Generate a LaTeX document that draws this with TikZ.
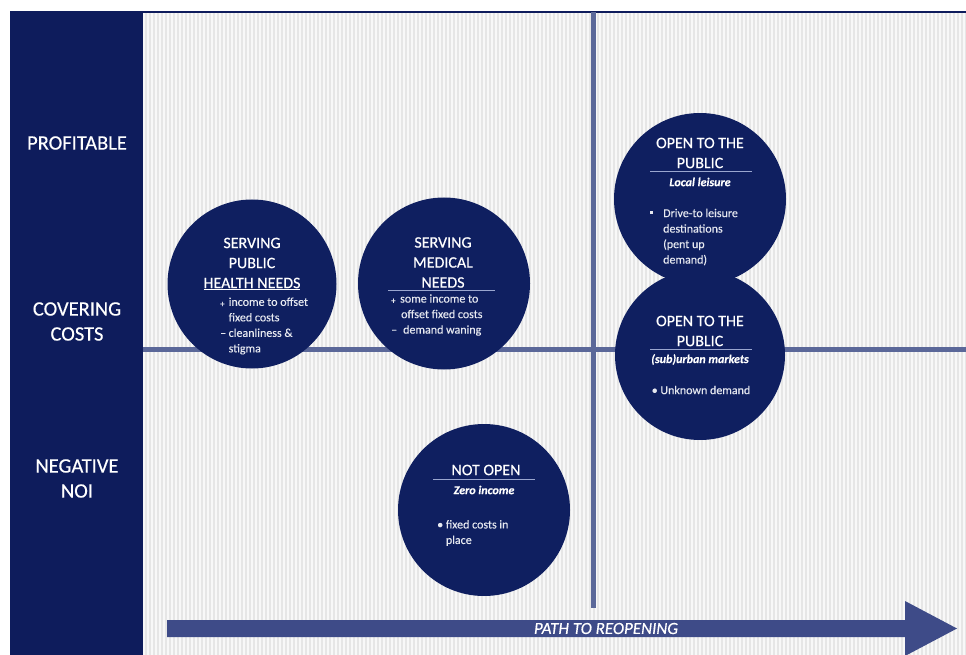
\documentclass[tikz,border=0pt]{standalone}
\usepackage{fontspec}
\setmainfont{Carlito}[FakeBold=0.35,BoldFeatures={FakeBold=0}]
\definecolor{panelnavy}{HTML}{0E1C5C}
\definecolor{discnavy}{HTML}{0F1F60}
\definecolor{axisblue}{HTML}{5B6899}
\definecolor{arrowblue}{HTML}{3E4B88}
\definecolor{rulelight}{HTML}{9AA6CF}
\definecolor{bodytxt}{HTML}{E6E8F0}
\definecolor{stripegray}{HTML}{E6E6E6}
\definecolor{plotbg}{HTML}{F8F8F8}

\begin{document}
\begin{tikzpicture}[x=1pt,y=-1pt,
  disc/.style={circle, fill=discnavy, minimum size=#1, inner sep=0pt},
  title/.style={text=white, font=\fontsize{16}{20}\selectfont, align=center, inner sep=0pt},
  bodytext/.style={text=bodytxt, font=\fontsize{12}{15.5}\selectfont, align=left, inner sep=0pt},
  subtitle/.style={text=white, font=\fontsize{12}{15}\selectfont\bfseries\itshape, inner sep=0pt},
  side/.style={text=white, font=\fontsize{20.5}{25}\selectfont, align=center, inner sep=0pt},
  divider/.style={rulelight, line width=1pt},
]
\useasboundingbox (0,0) rectangle (966,655);
\fill[white] (0,0) rectangle (966,655);

% striped plot area
\fill[plotbg] (143,12) rectangle (966,655);
\foreach \x in {146,150,...,966}
  \draw[stripegray, line width=1.2pt] (\x,12) -- (\x,655);

% left label panel and top border
\fill[panelnavy] (10,11) rectangle (143,655);
\draw[panelnavy, line width=2pt] (10,12) -- (966,12);

% quadrant axes
\draw[axisblue, line width=5pt] (143,349) -- (966,349);
\draw[axisblue, line width=5pt] (593,12) -- (593,608);

% row labels
\node[side] (lprofit) at (77,143) {PROFITABLE};
\node[side] (lcover) at (77,321.5) {COVERING\\COSTS};
\node[side] (lneg) at (77,478.5) {NEGATIVE\\NOI};

% path arrow
\fill[arrowblue] (167,620) -- (905,620) -- (905,601) -- (957,628.5)
  -- (905,656) -- (905,637) -- (167,637) -- cycle;
\node[text=white, font=\fontsize{17}{17}\selectfont\itshape, inner sep=0pt]
  (lpath) at (606,628.5) {PATH TO REOPENING};

% discs
\node[disc=169] (c1) at (252,284) {};
\node[disc=172] (c2) at (444,283.5) {};
\node[disc=172] (c3) at (700,199) {};
\node[disc=170] (c4) at (700,355) {};
\node[disc=172] (c5) at (484,510) {};

% serving public health needs
\node[title] (t1) at (252,264) {SERVING\\PUBLIC\\\underline{HEALTH NEEDS}};
\node[bodytext, anchor=west] (b1) at (220,326) {%
  \begin{tabular}{@{}l@{\hspace{2.5pt}}l@{}}
  {\raisebox{-1pt}{\fontsize{9}{9}\selectfont +}} & income to offset\\
   & fixed costs\\
  -- & cleanliness \&\\
   & stigma
  \end{tabular}};

% serving medical needs
\node[title] (t2) at (443,262.5) {SERVING\\MEDICAL\\NEEDS};
\draw[divider] (388,290) -- (495,290);
\node[bodytext, anchor=west] (b2) at (391,315) {%
  \begin{tabular}{@{}l@{\hspace{3pt}}l@{}}
  {\raisebox{-1pt}{\fontsize{9}{9}\selectfont +}} & some income to\\
   & \hspace{1pt}offset fixed costs\\
  -- & \hspace{3pt}demand waning
  \end{tabular}};

% open to the public, local leisure
\node[title] (t3) at (700,153) {OPEN TO THE\\PUBLIC};
\draw[divider] (650,172) -- (752,172);
\node[subtitle] (s3) at (700,182) {Local leisure};
\fill[bodytxt] (649.5,211.5) rectangle (652.5,214.5);
\node[bodytext, anchor=west] (b3) at (663,237) {Drive-to leisure\\destinations\\(pent up\\demand)};

% open to the public, (sub)urban markets
\node[title] (t4) at (700,331) {OPEN TO THE\\PUBLIC};
\draw[divider] (650,349) -- (752,349);
\node[subtitle] (s4) at (700,359.5) {(sub)urban markets};
\node[bodytext] (b4) at (701,390) {\textbullet\ Unknown demand};

% not open
\node[title] (t5) at (486,470) {NOT OPEN};
\draw[divider] (433,479) -- (535,479);
\node[subtitle] (s5) at (484,490) {Zero income};
\node[bodytext, anchor=west] (b5) at (437,533) {\textbullet\ fixed costs in\\\phantom{\textbullet\ }place};
\end{tikzpicture}
\end{document}
